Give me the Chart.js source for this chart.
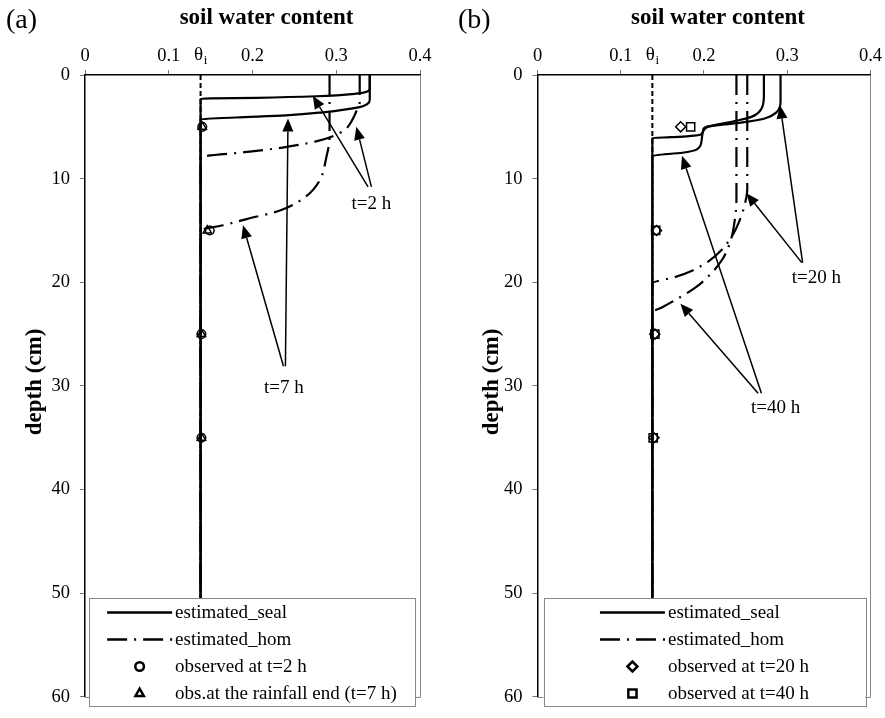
<!DOCTYPE html>
<html>
<head>
<meta charset="utf-8">
<script src="https://cdn.jsdelivr.net/npm/chart.js@4.4.1/dist/chart.umd.min.js"></script>
<style>
  body { margin: 0; background: #fff; }
  #wrap { position: relative; width: 885px; height: 718px; }
  .panel { position: absolute; top: 0; height: 718px; }
</style>
</head>
<body>
<div id="wrap">
  <div class="panel" style="left:0;width:442px"><canvas id="chartA" width="442" height="718"></canvas></div>
  <div class="panel" style="left:442px;width:443px"><canvas id="chartB" width="443" height="718"></canvas></div>
</div>
<script>
// initial soil water content (theta_i)
const thetaI = 0.138;
const xTickValues = [0, 0.1, 0.2, 0.3, 0.4];
const depthTickValues = [0, 10, 20, 30, 40, 50, 60];

// panel (a) - estimated profiles
const sealA2hTheta = [0.340, 0.340, 0.337, 0.324, 0.276, 0.205, 0.150, 0.138, 0.138];
const sealA2hDepth = [0, 1.3, 1.6, 1.8, 2.05, 2.2, 2.26, 2.3, 60];
const sealA7hTheta = [0.340, 0.340, 0.337, 0.328, 0.284, 0.240, 0.180, 0.138, 0.138];
const sealA7hDepth = [0, 2.4, 2.8, 3.1, 3.6, 3.9, 4.1, 4.27, 60];
const homA2hTheta = [0.328, 0.328, 0.324, 0.318, 0.310, 0.296, 0.276, 0.236, 0.197, 0.138, 0.138];
const homA2hDepth = [0, 2.6, 3.5, 4.5, 5.3, 5.9, 6.4, 7.0, 7.4, 7.95, 60];
const homA7hTheta = [0.292, 0.292, 0.288, 0.280, 0.264, 0.232, 0.193, 0.165, 0.138, 0.138];
const homA7hDepth = [0, 6.0, 8.0, 10.2, 11.7, 13.1, 13.9, 14.5, 15.0, 60];

// panel (b) - estimated profiles
const sealB20hTheta = [0.292, 0.292, 0.287, 0.273, 0.253, 0.225, 0.203, 0.199, 0.197, 0.182, 0.160, 0.138, 0.138];
const sealB20hDepth = [0, 2.6, 3.6, 4.2, 4.5, 4.77, 5.0, 5.3, 5.7, 5.9, 6.0, 6.08, 60];
const sealB40hTheta = [0.272, 0.272, 0.269, 0.257, 0.237, 0.205, 0.199, 0.197, 0.191, 0.174, 0.138, 0.138];
const sealB40hDepth = [0, 2.0, 3.26, 4.04, 4.45, 5.0, 5.45, 6.4, 7.2, 7.5, 7.8, 60];
const homB20hTheta = [0.252, 0.252, 0.249, 0.243, 0.234, 0.222, 0.205, 0.185, 0.165, 0.138, 0.138];
const homB20hDepth = [0, 11, 12.5, 14, 15.5, 16.8, 18, 18.9, 19.5, 20.1, 60];
const homB40hTheta = [0.239, 0.239, 0.237, 0.232, 0.222, 0.208, 0.190, 0.170, 0.150, 0.138, 0.138];
const homB40hDepth = [0, 12, 14, 16, 17.8, 19.2, 20.5, 21.5, 22.4, 22.9, 60];

// observations
const obsDepth = [5, 15, 25, 35];
const obsA2h = [0.140, 0.149, 0.139, 0.139];
const obsA7h = [0.140, 0.146, 0.139, 0.139];
const obsB20h = [0.172, 0.143, 0.141, 0.140];
const obsB40h = [0.184, 0.142, 0.141, 0.139];

// arrows [fromTheta, fromDepth, toTheta, toDepth] and time notes
const arrowsA = [[0.338, 10.8, 0.272, 2.0], [0.342, 10.8, 0.324, 5.0],
                 [0.2393, 28.1, 0.2424, 4.2], [0.237, 28.1, 0.1887, 14.5]];
const notesA = [['t=2 h', 0.342, 12.4], ['t=7 h', 0.2375, 30.2]];
const arrowsB = [[0.3185, 18.1, 0.2915, 2.95], [0.3175, 18.1, 0.251, 11.4],
                 [0.265, 30.7, 0.1717, 22.06], [0.269, 30.7, 0.1736, 7.8]];
const notesB = [['t=20 h', 0.335, 19.55], ['t=40 h', 0.286, 32.1]];

const serif = 'Liberation Serif';
const tickFont = { family: serif, size: 18.5 };
const homDash = [20, 7, 2, 7];

const pts = (th, d) => th.map((v, i) => ({ x: v, y: d[i] }));

// profiles are smoothed along depth (monotone in depth)
function seal(label, th, d) {
  return { label, data: pts(th, d), showLine: true, borderColor: '#000', borderWidth: 2.2,
           pointRadius: 0, cubicInterpolationMode: 'monotone' };
}
function hom(label, th, d) {
  return { label, data: pts(th, d), showLine: true, borderColor: '#000', borderWidth: 2.2,
           borderDash: homDash, pointRadius: 0, cubicInterpolationMode: 'monotone' };
}
function obs(label, th, style, r) {
  return { label, data: pts(th, obsDepth), showLine: false, pointStyle: style, pointRadius: r,
           borderColor: '#000', borderWidth: 1.5, backgroundColor: 'rgba(0,0,0,0)' };
}
const thetaLine = { label: '', data: [{ x: thetaI, y: 0 }, { x: thetaI, y: 60 }], showLine: true,
                    borderColor: '#000', borderWidth: 2, borderDash: [5, 3], pointRadius: 0 };

const decor = {
  id: 'decor',
  afterDatasetsDraw(chart, args, o) {
    const ctx = chart.ctx, xs = chart.scales.x, ys = chart.scales.y, ca = chart.chartArea;
    ctx.save();
    // right and bottom frame
    ctx.strokeStyle = '#888'; ctx.lineWidth = 1;
    ctx.beginPath();
    ctx.moveTo(Math.round(ca.right) + 0.5, ca.top);
    ctx.lineTo(Math.round(ca.right) + 0.5, Math.round(ca.bottom) + 0.5);
    ctx.lineTo(ca.left, Math.round(ca.bottom) + 0.5);
    ctx.stroke();

    // arrows
    ctx.strokeStyle = '#000'; ctx.fillStyle = '#000'; ctx.lineWidth = 1.5;
    o.arrows.forEach(a => {
      const x0 = xs.getPixelForValue(a[0]), y0 = ys.getPixelForValue(a[1]);
      const x1 = xs.getPixelForValue(a[2]), y1 = ys.getPixelForValue(a[3]);
      const ang = Math.atan2(y1 - y0, x1 - x0), hl = 13, hw = 5.5;
      const bx = x1 - hl * Math.cos(ang), by = y1 - hl * Math.sin(ang);
      ctx.beginPath(); ctx.moveTo(x0, y0); ctx.lineTo(bx, by); ctx.stroke();
      ctx.beginPath(); ctx.moveTo(x1, y1);
      ctx.lineTo(bx + hw * Math.sin(ang), by - hw * Math.cos(ang));
      ctx.lineTo(bx - hw * Math.sin(ang), by + hw * Math.cos(ang));
      ctx.closePath(); ctx.fill();
    });
    ctx.font = '19px "' + serif + '"';
    ctx.textAlign = 'center'; ctx.textBaseline = 'middle';
    o.notes.forEach(n => ctx.fillText(n[0], xs.getPixelForValue(n[1]), ys.getPixelForValue(n[2])));

    // legend inside the plot
    const bl = ca.left + o.legendInset[0], br = ca.right - o.legendInset[1];
    const bt = 598.5, bb = 706.5;
    ctx.fillStyle = '#fff'; ctx.fillRect(bl, bt, br - bl, bb - bt);
    ctx.strokeStyle = '#888'; ctx.lineWidth = 1;
    ctx.strokeRect(Math.round(bl) + 0.5, bt, Math.round(br - bl), bb - bt);
    const seen = new Set(), items = [];
    chart.data.datasets.forEach(ds => {
      if (ds.label && !seen.has(ds.label)) { seen.add(ds.label); items.push(ds); }
    });
    ctx.font = '19px "' + serif + '"';
    const maxW = Math.max(...items.map(ds => ctx.measureText(ds.label).width));
    const sw = 65, gap = 3;
    const sx = bl + (br - bl - (sw + gap + maxW)) / 2;
    items.forEach((ds, i) => {
      const y = bt + 14 + i * 27;
      ctx.strokeStyle = '#000'; ctx.fillStyle = '#000';
      if (ds.showLine) {
        ctx.lineWidth = 2.5; ctx.setLineDash(ds.borderDash || []);
        ctx.beginPath(); ctx.moveTo(sx, y); ctx.lineTo(sx + sw, y); ctx.stroke();
        ctx.setLineDash([]);
      } else {
        ctx.fillStyle = 'rgba(0,0,0,0)';
        Chart.helpers.drawPoint(ctx, { pointStyle: ds.pointStyle, radius: ds.pointRadius,
                                       borderWidth: 1.6, rotation: 0 }, sx + sw / 2, y);
        ctx.fillStyle = '#000';
      }
      ctx.textAlign = 'left'; ctx.textBaseline = 'middle';
      ctx.fillText(ds.label, sx + sw + gap, y + 1);
    });
    ctx.restore();
  },
  afterDraw(chart, args, o) {
    const ctx = chart.ctx, xs = chart.scales.x, ca = chart.chartArea;
    ctx.save();
    ctx.fillStyle = '#000';
    ctx.textBaseline = 'middle';
    ctx.textAlign = 'left';
    ctx.font = '28px "' + serif + '"';
    ctx.fillText(o.letter, o.letterX, 21);
    ctx.textAlign = 'center';
    ctx.font = 'bold 23px "' + serif + '"';
    ctx.fillText('soil water content', (ca.left + ca.right) / 2 + 14, 18);
    // theta_i marker on the top axis
    const tx = xs.getPixelForValue(thetaI);
    ctx.font = '19px "' + serif + '"';
    ctx.fillText('\u03B8', tx - 2, 55);
    ctx.font = '13px "' + serif + '"';
    ctx.fillText('i', tx + 5, 61);
    // depth axis title
    ctx.translate(ca.left - o.yTitleGap, 382);
    ctx.rotate(-Math.PI / 2);
    ctx.font = 'bold 23px "' + serif + '"';
    ctx.fillText('depth (cm)', 0, 0);
    ctx.restore();
  }
};

function makePanel(id, datasets, o) {
  const axisGrid = { drawOnChartArea: false, drawTicks: true, tickLength: 5, color: '#777' };
  const axisBorder = { display: true, color: '#000', width: 1.5 };
  return new Chart(document.getElementById(id), {
    type: 'scatter',
    data: { datasets },
    options: {
      indexAxis: 'y',
      responsive: false,
      animation: false,
      events: [],
      layout: { padding: { left: 0, right: o.padRight, top: 0, bottom: 5 } },
      scales: {
        x: {
          type: 'linear', position: 'top', min: 0, max: 0.4,
          afterBuildTicks: s => { s.ticks = xTickValues.map(v => ({ value: v })); },
          afterFit: s => { s.height = 75; },
          ticks: { font: tickFont, color: '#000', padding: 3, callback: v => String(+v.toFixed(1)) },
          grid: axisGrid, border: axisBorder
        },
        y: {
          type: 'linear', position: 'left', reverse: true, min: 0, max: 60,
          afterBuildTicks: s => { s.ticks = depthTickValues.map(v => ({ value: v })); },
          afterFit: s => { s.width = o.yWidth; },
          ticks: { font: tickFont, color: '#000', padding: 10 },
          grid: axisGrid, border: axisBorder
        }
      },
      plugins: {
        legend: { display: false },
        tooltip: { enabled: false },
        decor: { letter: o.letter, letterX: o.letterX, arrows: o.arrows, notes: o.notes,
                 legendInset: o.legendInset, yTitleGap: o.yTitleGap }
      }
    },
    plugins: [decor]
  });
}

makePanel('chartA', [
  seal('estimated_seal', sealA2hTheta, sealA2hDepth),
  seal('estimated_seal', sealA7hTheta, sealA7hDepth),
  hom('estimated_hom', homA2hTheta, homA2hDepth),
  hom('estimated_hom', homA7hTheta, homA7hDepth),
  obs('observed at t=2 h', obsA2h, 'circle', 4.3),
  obs('obs.at the rainfall end (t=7 h)', obsA7h, 'triangle', 4.8),
  thetaLine
], { letter: '(a)', letterX: 6, padRight: 22, yWidth: 85, arrows: arrowsA, notes: notesA,
     legendInset: [4, 5], yTitleGap: 50 });

makePanel('chartB', [
  seal('estimated_seal', sealB20hTheta, sealB20hDepth),
  seal('estimated_seal', sealB40hTheta, sealB40hDepth),
  hom('estimated_hom', homB20hTheta, homB20hDepth),
  hom('estimated_hom', homB40hTheta, homB40hDepth),
  obs('observed at t=20 h', obsB20h, 'rectRot', 5),
  obs('observed at t=40 h', obsB40h, 'rect', 5.8),
  thetaLine
], { letter: '(b)', letterX: 16, padRight: 11, yWidth: 95.5, arrows: arrowsB, notes: notesB,
     legendInset: [6, 5], yTitleGap: 45 });
</script>
</body>
</html>
